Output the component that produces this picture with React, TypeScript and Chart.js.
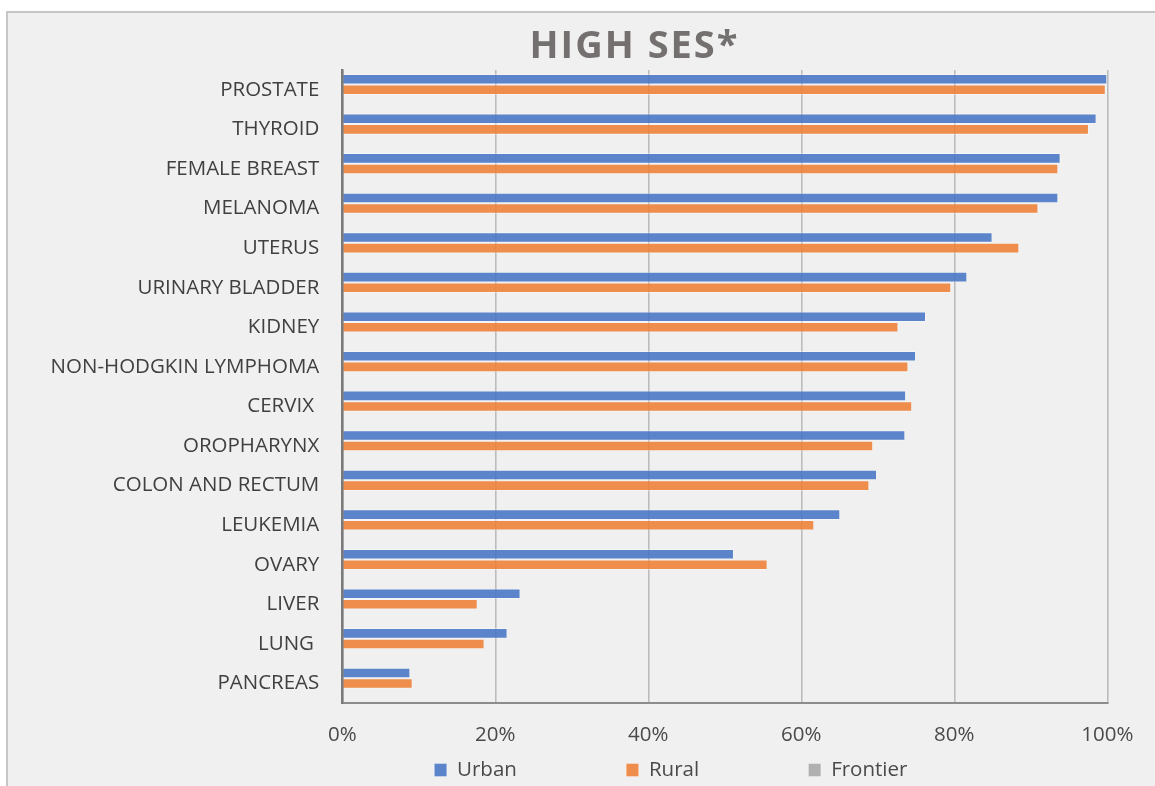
import React, { useEffect, useRef } from "react";
import { Chart, registerables } from "chart.js";

Chart.register(...registerables);

const titleText = "HIGH SES*";
const categories = [
  "PROSTATE",
  "THYROID",
  "FEMALE BREAST",
  "MELANOMA",
  "UTERUS",
  "URINARY BLADDER",
  "KIDNEY",
  "NON-HODGKIN LYMPHOMA",
  "CERVIX ",
  "OROPHARYNX",
  "COLON AND RECTUM",
  "LEUKEMIA",
  "OVARY",
  "LIVER",
  "LUNG ",
  "PANCREAS",
];
const seriesNames = ["Urban", "Rural", "Frontier"];
const urban = [100.0, 98.6, 93.9, 93.6, 85.0, 81.7, 76.3, 75.0, 73.7, 73.6, 69.9, 65.1, 51.2, 23.3, 21.6, 8.9];
const rural = [99.8, 97.6, 93.6, 91.0, 88.5, 79.6, 72.7, 74.0, 74.5, 69.4, 68.9, 61.7, 55.6, 17.7, 18.6, 9.2];
const frontier: (number | null)[] = [null, null, null, null, null, null, null, null, null, null, null, null, null, null, null, null];
const xTickValues = [0, 20, 40, 60, 80, 100];
const xTickLabels = ["0%", "20%", "40%", "60%", "80%", "100%"];

const W = 1253;
const H = 775;
const FONT = "'Open Sans', 'DejaVu Sans', sans-serif";

export default function App() {
  const ref = useRef<HTMLCanvasElement | null>(null);

  useEffect(() => {
    if (!ref.current) return;
    const placer = {
      id: "placer",
      afterLayout(chart: any) {
        const lg = chart.legend;
        if (lg) {
          lg.left = 317;
          lg.top = 637.5;
          lg.right = W;
          lg.bottom = lg.top + 140;
        }
        const tb = chart.titleBlock;
        if (tb) {
          tb.left = 0;
          tb.right = chart.width;
          tb.width = chart.width;
        }
      },
      beforeDraw(chart: any) {
        const tb = chart.titleBlock;
        if (tb && !tb.__ls) {
          const orig = tb.draw.bind(tb);
          tb.draw = (...args: any[]) => {
            const c: any = chart.ctx;
            const prev = c.letterSpacing;
            c.letterSpacing = "2px";
            orig(...args);
            c.letterSpacing = prev || "0px";
          };
          tb.__ls = true;
        }
      },
    };

    const chart = new Chart(ref.current, {
      type: "bar",
      data: {
        labels: categories,
        datasets: [
          {
            label: seriesNames[0],
            data: urban,
            backgroundColor: "rgba(66,114,196,0.86)",
            borderColor: "rgba(255,255,255,0.35)",
            borderWidth: 1,
          },
          {
            label: seriesNames[1],
            data: rural,
            backgroundColor: "rgba(237,125,49,0.86)",
            borderColor: "rgba(255,255,255,0.35)",
            borderWidth: 1,
          },
          {
            label: seriesNames[2],
            data: frontier,
            backgroundColor: "rgba(165,165,165,0.86)",
            borderColor: "rgba(255,255,255,0.35)",
            borderWidth: 1,
          },
        ],
      },
      options: {
        indexAxis: "y",
        animation: false,
        responsive: true,
        maintainAspectRatio: false,
        events: [],
        layout: { padding: { left: 0, right: W - 1099.3, top: 0, bottom: 0 } },
        datasets: {
          bar: { categoryPercentage: 0.8, barPercentage: 1.0 },
        },
        scales: {
          x: {
            min: 0,
            max: 100,
            afterBuildTicks: (s: any) => {
              s.ticks = xTickValues.map((v) => ({ value: v }));
            },
            ticks: {
              padding: 20,
              maxRotation: 0,
              color: "#4a4a4a",
              font: { family: FONT, size: 20.5 },
              callback: (v: any) => xTickLabels[xTickValues.indexOf(Number(v))],
            },
            grid: { color: "#bcbcbc", lineWidth: 1.6, drawTicks: false },
            border: { display: true, color: "#8c8c8c", width: 2 },
            afterFit: (s: any) => {
              s.height = H - 30 - 690.3;
            },
          },
          y: {
            ticks: {
              padding: 23,
              autoSkip: false,
              color: "#404040",
              font: { family: FONT, size: 20.5 },
            },
            grid: { display: false, drawTicks: false },
            border: { display: true, color: "#7a7a7a", width: 2.5, z: 1 },
            afterFit: (s: any) => {
              s.width = 334.3;
            },
          },
        },
        plugins: {
          title: {
            display: true,
            text: titleText,
            color: "#757070",
            font: { family: FONT, size: 38, weight: "bold" },
            padding: { top: 11, bottom: 0.4 },
          },
          legend: {
            display: true,
            position: "bottom",
            align: "start",
            maxHeight: 30,
            labels: {
              color: "#4a4a4a",
              font: { family: FONT, size: 20.5 },
              boxWidth: 12.5,
              boxHeight: 13,
              padding: 109.3,
            },
          },
          tooltip: { enabled: false },
        },
      },
      plugins: [placer],
    } as any);
    return () => chart.destroy();
  }, []);

  return (
    <div
      style={{
        position: "fixed",
        left: 0,
        top: 0,
        width: 1155,
        height: 786,
        background: "#ffffff",
        overflow: "hidden",
      }}
    >
      <div
        style={{
          position: "absolute",
          left: 6,
          top: 11,
          width: 1256,
          height: 790,
          background: "#f0f0f0",
          borderLeft: "2px solid #c6c6c6",
          borderTop: "2px solid #c6c6c6",
        }}
      >
        <div style={{ position: "absolute", left: 0, top: 0, width: W, height: H }}>
          <canvas ref={ref} />
        </div>
      </div>
    </div>
  );
}
